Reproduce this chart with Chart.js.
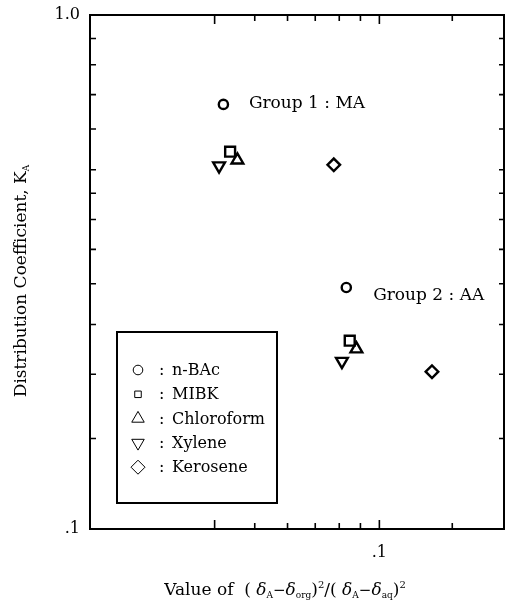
<!DOCTYPE html>
<html><head><meta charset="utf-8">
<style>html,body{margin:0;padding:0;background:#fff}#wrap{width:506px;height:603px}</style>
<script src="https://cdn.jsdelivr.net/npm/chart.js@4/dist/chart.umd.min.js"></script>
</head><body><div id="wrap"><canvas id="c" width="506" height="603"></canvas></div>
<script>
// ---- data ----
const solvents = ['n-BAc', 'MIBK', 'Chloroform', 'Xylene', 'Kerosene'];
const group1X = [0.0420, 0.0436, 0.0454, 0.0410, 0.0776];
const group1Y = [0.670, 0.542, 0.522, 0.509, 0.511];
const group2X = [0.0832, 0.0848, 0.0880, 0.0812, 0.134];
const group2Y = [0.295, 0.2325, 0.224, 0.212, 0.2023];
const groupLabels = ['Group 1 : MA', 'Group 2 : AA'];
const groupLabelX = [0.0484, 0.0966];
const groupLabelY = [0.671, 0.284];
const xTickValues = [0.02, 0.04, 0.05, 0.06, 0.07, 0.08, 0.09, 0.1, 0.15, 0.2];
const xTickLabels = ['', '', '', '', '', '', '', '.1', '', ''];
const xMajorTicks = [0.04, 0.1];
const yTickValues = [0.1, 0.15, 0.2, 0.25, 0.3, 0.35, 0.4, 0.45, 0.5, 0.6, 0.7, 0.8, 0.9, 1];
const yTickLabels = ['.1', '', '', '', '', '', '', '', '', '', '', '', '', '1.0'];

// ---- styles ----
const FONT = 'DejaVu Serif';
const markerStyles = ['circle', 'rect', 'triangle', 'triangle', 'rectRot'];
const markerRot = [0, 0, 0, 180, 0];
const markerRadius = [4.6, 7, 6.8, 6.8, 6.3];
const legendRadius = [4.8, 4.6, 7.2, 7.2, 7];

Chart.defaults.font.family = FONT;
Chart.defaults.color = '#000';

const datasets = solvents.map((s, i) => ({
  label: s,
  data: [{x: group1X[i], y: group1Y[i]}, {x: group2X[i], y: group2Y[i]}],
  showLine: false,
  pointStyle: markerStyles[i],
  rotation: markerRot[i],
  pointRadius: markerRadius[i],
  pointBorderWidth: 2.4,
  borderColor: '#000',
  backgroundColor: 'rgba(255,255,255,0)',
  pointBackgroundColor: 'rgba(255,255,255,0)'
}));

function drawRich(ctx, segs, x, y, align) {
  // segs: [text, size, dy, italic]
  let total = 0;
  segs.forEach(s => { ctx.font = (s[3] ? 'italic ' : '') + s[1] + 'px "' + FONT + '"'; total += ctx.measureText(s[0]).width; });
  let cx = align === 'center' ? x - total / 2 : x;
  ctx.textBaseline = 'alphabetic';
  ctx.textAlign = 'left';
  segs.forEach(s => {
    ctx.font = (s[3] ? 'italic ' : '') + s[1] + 'px "' + FONT + '"';
    ctx.fillText(s[0], cx, y + s[2]);
    cx += ctx.measureText(s[0]).width;
  });
}

const decorPlugin = {
  id: 'decor',
  afterDatasetsDraw(chart) {
    const {ctx, chartArea: a, scales: {x, y}} = chart;
    ctx.save();
    ctx.strokeStyle = '#000';
    ctx.fillStyle = '#000';
    // frame
    ctx.lineWidth = 2;
    ctx.strokeRect(a.left, a.top, a.right - a.left, a.bottom - a.top);
    // inward ticks
    ctx.lineWidth = 1.6;
    ctx.beginPath();
    yTickValues.forEach(v => {
      const p = y.getPixelForValue(v);
      ctx.moveTo(a.left, p); ctx.lineTo(a.left + 6, p);
      ctx.moveTo(a.right, p); ctx.lineTo(a.right - 5, p);
    });
    xTickValues.forEach(v => {
      const p = x.getPixelForValue(v);
      const L = xMajorTicks.includes(v) ? 9 : 6;
      ctx.moveTo(p, a.bottom); ctx.lineTo(p, a.bottom - L);
      ctx.moveTo(p, a.top); ctx.lineTo(p, a.top + L);
    });
    ctx.stroke();
    // group labels
    ctx.font = '17px "' + FONT + '"';
    ctx.textAlign = 'left';
    ctx.textBaseline = 'middle';
    groupLabels.forEach((t, i) => {
      ctx.fillText(t, x.getPixelForValue(groupLabelX[i]), y.getPixelForValue(groupLabelY[i]));
    });
    // legend box
    const bx = a.left + 27, by = a.top + 317, bw = 160, bh = 171;
    ctx.lineWidth = 2;
    ctx.strokeRect(bx, by, bw, bh);
    chart.data.datasets.forEach((d, i) => {
      const cy = by + 38 + i * 24.3;
      ctx.fillStyle = '#fff';
      ctx.strokeStyle = '#000';
      ctx.lineWidth = 1;
      Chart.helpers.drawPoint(ctx, {pointStyle: d.pointStyle, rotation: d.rotation, radius: legendRadius[i], borderWidth: 1}, bx + 21, cy);
      ctx.fillStyle = '#000';
      ctx.font = '16px "' + FONT + '"';
      ctx.textBaseline = 'middle';
      ctx.fillText(':', bx + 42, cy + 1);
      ctx.fillText(d.label, bx + 55, cy + 1);
    });
    // axis titles
    drawRich(ctx, [
      ['Value of  ( ', 17, 0], ['δ', 17, 0, true], ['A', 9, 3], ['−', 15, 0], ['δ', 17, 0, true], ['org', 9, 3],
      [')', 17, 0], ['2', 10, -7], ['/( ', 17, 0], ['δ', 17, 0, true], ['A', 9, 3], ['−', 15, 0], ['δ', 17, 0, true], ['aq', 9, 3],
      [')', 17, 0], ['2', 10, -7]
    ], 285, 595, 'center');
    ctx.save();
    ctx.translate(26, 281);
    ctx.rotate(-Math.PI / 2);
    drawRich(ctx, [['Distribution Coefficient, K', 17, 0], ['A', 9, 3]], 0, 0, 'center');
    ctx.restore();
    ctx.restore();
  }
};

function zeroPad(s) { s.paddingLeft = 0; s.paddingRight = 0; s.paddingTop = 0; s.paddingBottom = 0; }

new Chart(document.getElementById('c'), {
  type: 'scatter',
  data: {datasets},
  options: {
    responsive: false,
    animation: false,
    events: [],
    layout: {autoPadding: false, padding: {left: 0, right: 2, top: 15, bottom: 0}},
    plugins: {legend: {display: false}, tooltip: {enabled: false}},
    scales: {
      x: {
        type: 'logarithmic', position: 'bottom', min: 0.02, max: 0.2,
        afterBuildTicks: s => { s.ticks = xTickValues.map(v => ({value: v})); },
        afterFit: s => { s.height = 74; zeroPad(s); },
        ticks: {autoSkip: false, maxRotation: 0, padding: 14, font: {size: 16},
          callback: (v, i) => xTickLabels[i]},
        grid: {display: false, drawTicks: false},
        border: {display: false}
      },
      y: {
        type: 'logarithmic', position: 'left', min: 0.1, max: 1,
        afterBuildTicks: s => { s.ticks = yTickValues.map(v => ({value: v})); },
        afterFit: s => { s.width = 90; zeroPad(s); },
        ticks: {autoSkip: false, padding: 10, font: {size: 16},
          callback: (v, i) => yTickLabels[i]},
        grid: {display: false, drawTicks: false},
        border: {display: false}
      }
    }
  },
  plugins: [decorPlugin]
});
</script>
</body></html>
